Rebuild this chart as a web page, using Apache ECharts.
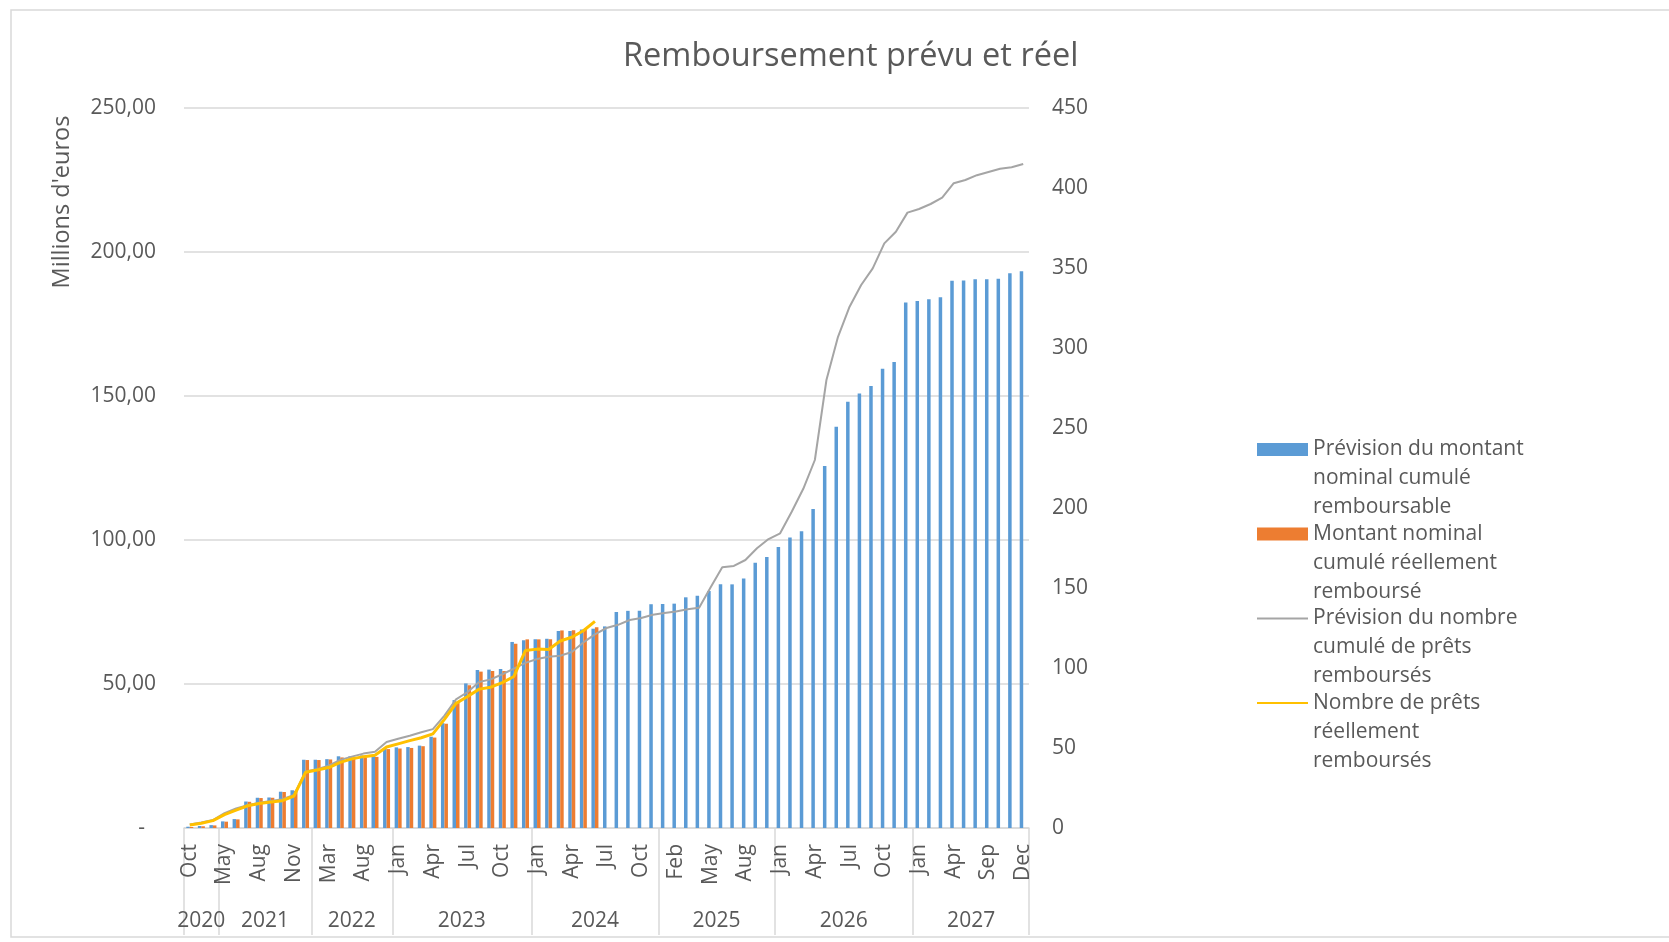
<!DOCTYPE html>
<html>
<head>
<meta charset="utf-8">
<title>Remboursement prévu et réel</title>
<script src="https://cdn.jsdelivr.net/npm/echarts@6/dist/echarts.min.js"></script>
<style>
  html, body, #main { width: 100%; height: 100%; margin: 0; padding: 0; background: #fff; }
</style>
</head>
<body>
<div id="main"></div>
<script>
// years and the months that have a point in each year
var yearNames = ['2020', '2021', '2022', '2023', '2024', '2025', '2026', '2027'];
var monthsByYear = [
  ['Oct', 'Nov', 'Dec'],
  ['May', 'Jun', 'Jul', 'Aug', 'Sep', 'Oct', 'Nov', 'Dec'],
  ['Feb', 'Mar', 'May', 'Jun', 'Aug', 'Oct', 'Dec'],
  ['Jan', 'Feb', 'Mar', 'Apr', 'May', 'Jun', 'Jul', 'Aug', 'Sep', 'Oct', 'Nov', 'Dec'],
  ['Jan', 'Feb', 'Mar', 'Apr', 'May', 'Jun', 'Jul', 'Aug', 'Sep', 'Oct', 'Dec'],
  ['Jan', 'Feb', 'Mar', 'Apr', 'May', 'Jun', 'Jul', 'Aug', 'Oct', 'Dec'],
  ['Jan', 'Feb', 'Mar', 'Apr', 'May', 'Jun', 'Jul', 'Aug', 'Sep', 'Oct', 'Nov', 'Dec'],
  ['Jan', 'Feb', 'Mar', 'Apr', 'Jun', 'Jul', 'Sep', 'Oct', 'Nov', 'Dec']
];

// millions d'euros (left axis)
var montantPrevu = [
  0.45, 0.7, 1.0,
  2.3, 3.1, 9.2, 10.5, 10.6, 12.6, 13.1, 23.7,
  23.7, 23.9, 24.9, 24.9, 25.2, 25.1, 27.6,
  28.0, 28.1, 28.6, 31.7, 36.4, 44.4, 50.2, 54.9, 55.0, 55.2, 64.6, 65.2,
  65.5, 65.7, 68.4, 68.4, 68.9, 69.2, 70.0, 75.0, 75.4, 75.4, 77.7,
  77.8, 77.9, 80.1, 80.6, 82.3, 84.6, 84.6, 86.6, 92.1, 94.1,
  97.6, 100.9, 103.0, 110.8, 125.7, 139.3, 148.0, 150.9, 153.5, 159.5, 161.8, 182.5,
  183.0, 183.6, 184.3, 190.0, 190.1, 190.5, 190.5, 190.7, 192.6, 193.3
];
var montantReel = [
  0.35, 0.6, 0.9,
  2.2, 3.0, 9.1, 10.4, 10.5, 12.5, 12.9, 23.6,
  23.6, 23.8, 24.5, 24.5, 24.5, 24.7, 27.4,
  27.6, 27.8, 28.4, 31.4, 36.2, 43.4, 49.6, 54.3, 54.5, 54.5, 64.0, 65.5,
  65.5, 65.5, 68.6, 68.7, 69.1, 69.7
];

// nombre de prêts (right axis)
var pretsPrevus = [
  2.2, 3.4, 5.0,
  9.3, 12.2, 14.3, 15.8, 16.9, 18.0, 20.6, 35.4,
  36.8, 38.9, 42.5, 44.6, 46.5, 47.6, 53.8,
  55.8, 57.7, 59.8, 61.8, 70.2, 80.4, 85.0, 91.3, 92.9, 96.1, 99.6, 103.2,
  105.6, 107.0, 107.7, 110.0, 116.0, 121.0, 125.0, 127.0, 130.0, 131.2, 133.3,
  134.4, 135.3, 136.7, 137.7, 150.4, 162.9, 163.8, 167.5, 174.8, 180.6,
  184.2, 197.7, 212, 230, 280, 307, 325.8, 339.4, 349.8, 365.4, 372.7, 384.6,
  386.9, 390, 394, 403, 405, 408, 410, 412, 413, 415
];
var pretsReels = [
  1.9, 3.0, 4.6,
  8.4, 11.2, 13.9, 15.3, 16.3, 17.1, 20.0, 34.8,
  36.3, 37.8, 41.0, 43.2, 44.6, 45.5, 50.6,
  52.6, 54.6, 56.4, 58.8, 67.9, 77.9, 82.2, 86.8, 88.0, 90.9, 94.7, 111.0,
  111.8, 111.6, 116.9, 119.2, 123.3, 129.1
];

var seriesNames = [
  'Prévision du montant nominal cumulé remboursable',
  'Montant nominal cumulé réellement remboursé',
  'Prévision du nombre cumulé de prêts remboursés',
  'Nombre de prêts réellement remboursés'
];
var legendLines = [
  'Prévision du montant\nnominal cumulé\nremboursable',
  'Montant nominal\ncumulé réellement\nremboursé',
  'Prévision du nombre\ncumulé de prêts\nremboursés',
  'Nombre de prêts\nréellement\nremboursés'
];

// flatten the two-level category axis
var months = [], yearOfCat = [], groupStarts = [], yearLabelAt = {};
monthsByYear.forEach(function (list, k) {
  var start = months.length;
  groupStarts.push(start);
  list.forEach(function (m) { months.push(m); yearOfCat.push(yearNames[k]); });
  var n = list.length;
  // centre of the group; even-sized groups get shifted half a band
  yearLabelAt[start + Math.floor((n - 1) / 2)] = (n % 2 === 0);
});

var FONT = 'Open Sans';
var GREY_TXT = '#595959';
var GRID_C = '#d9d9d9';
var LBL = 21;

var myChart = echarts.init(document.getElementById('main'));
window.onresize = function () { myChart.resize(); };

myChart.setOption({
  animation: false,
  textStyle: { fontFamily: FONT },
  title: {
    text: 'Remboursement prévu et réel',
    left: 623,
    top: 40,
    padding: 0,
    textStyle: { fontFamily: FONT, fontSize: 32.5, fontWeight: 'normal', color: GREY_TXT }
  },
  graphic: [
    {
      type: 'rect', silent: true, z: -1,
      shape: { x: 11, y: 10, width: 1700, height: 927 },
      style: { fill: 'none', stroke: GRID_C, lineWidth: 1.5 }
    },
    {
      type: 'text', silent: true,
      x: 62, y: 202, rotation: Math.PI / 2,
      style: {
        text: "Millions d'euros", fontFamily: FONT, fontSize: 23.5, fill: GREY_TXT,
        align: 'center', verticalAlign: 'middle'
      }
    }
  ],
  legend: {
    orient: 'vertical',
    left: 1256,
    top: 377,
    padding: 0,
    itemWidth: 51,
    itemHeight: 13,
    itemGap: -60.5,
    selectedMode: false,
    data: [
      { name: seriesNames[0], icon: 'rect' },
      { name: seriesNames[1], icon: 'rect' },
      { name: seriesNames[2], itemStyle: { opacity: 0 } },
      { name: seriesNames[3], itemStyle: { opacity: 0 } }
    ],
    // two empty lines first so the icon sits on the first text line
    formatter: function (name) { return '\n\n' + legendLines[seriesNames.indexOf(name)]; },
    textStyle: { fontFamily: FONT, fontSize: 21, color: GREY_TXT, lineHeight: 29 }
  },
  grid: { left: 184, right: 640, top: 108, bottom: 114 },
  xAxis: [
    {
      type: 'category',
      data: months,
      axisLine: { lineStyle: { color: GRID_C, width: 1.5 } },
      axisTick: {
        show: true,
        length: 107,
        interval: function (i) { return groupStarts.indexOf(i) >= 0; },
        lineStyle: { color: GRID_C, width: 1.5 }
      },
      axisLabel: {
        interval: 2, rotate: 90, margin: 16,
        fontFamily: FONT, fontSize: LBL, color: GREY_TXT
      }
    },
    {
      type: 'category',
      position: 'bottom',
      data: yearOfCat,
      axisLine: { show: false },
      axisTick: { show: false },
      axisLabel: {
        margin: 83,
        fontFamily: FONT, fontSize: LBL, color: GREY_TXT,
        interval: function (i) { return yearLabelAt.hasOwnProperty(i); },
        formatter: function (v, i) { return yearLabelAt[i] ? '{s|' + v + '}' : '{n|' + v + '}'; },
        rich: {
          s: { padding: [0, 0, 0, 11.6], fontFamily: FONT, fontSize: LBL, color: GREY_TXT },
          n: { fontFamily: FONT, fontSize: LBL, color: GREY_TXT }
        }
      }
    }
  ],
  yAxis: [
    {
      type: 'value',
      min: 0, max: 250, interval: 50,
      axisLine: { show: false },
      axisTick: { show: false },
      splitLine: { lineStyle: { color: GRID_C, width: 1.5 } },
      axisLabel: {
        margin: 28, fontFamily: FONT, fontSize: LBL, color: GREY_TXT,
        formatter: function (v) { return v === 0 ? '-  ' : v.toFixed(2).replace('.', ','); }
      }
    },
    {
      type: 'value',
      min: 0, max: 450, interval: 50,
      position: 'right',
      axisLine: { show: false },
      axisTick: { show: false },
      splitLine: { show: false },
      axisLabel: { margin: 23, fontFamily: FONT, fontSize: LBL, color: GREY_TXT }
    }
  ],
  series: [
    {
      name: seriesNames[0], type: 'bar', data: montantPrevu,
      barWidth: 3.5, barGap: '0%',
      itemStyle: { color: '#5B9BD5' }
    },
    {
      name: seriesNames[1], type: 'bar', data: montantReel,
      barWidth: 3.5, barGap: '0%',
      itemStyle: { color: '#ED7D31' }
    },
    {
      name: seriesNames[2], type: 'line', yAxisIndex: 1, data: pretsPrevus,
      symbol: 'none', itemStyle: { color: '#A5A5A5' },
      lineStyle: { color: '#A5A5A5', width: 2 }
    },
    {
      name: seriesNames[3], type: 'line', yAxisIndex: 1, data: pretsReels,
      symbol: 'none', itemStyle: { color: '#FFC000' },
      lineStyle: { color: '#FFC000', width: 3 }
    }
  ]
});
</script>
</body>
</html>
